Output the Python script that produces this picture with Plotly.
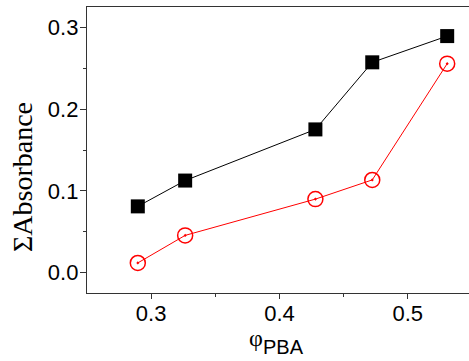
import plotly.graph_objects as go

phi_pba = [0.2896, 0.3265, 0.428, 0.4723, 0.5307]
absorb_black = [0.081, 0.1126, 0.1752, 0.2573, 0.2894]
absorb_red = [0.0118, 0.0455, 0.0899, 0.1134, 0.2557]
x_ticks = [0.3, 0.4, 0.5]
y_ticks = [0.0, 0.1, 0.2, 0.3]

# plot-area geometry (pixels) used to place titles
L, R, T, B, W, H = 87, 0, 7, 68, 469, 361
pw, ph = W - L - R, H - T - B
def px(x):
    return (x - L) / pw
def py(y):
    return (H - B - y) / ph

fig = go.Figure()
fig.add_trace(go.Scatter(
    x=phi_pba, y=absorb_black, mode="lines+markers",
    line=dict(color="black", width=1),
    marker=dict(symbol="square", size=14, color="black", line=dict(width=0)),
    showlegend=False, cliponaxis=False))
fig.add_trace(go.Scatter(
    x=phi_pba, y=absorb_red, mode="lines+markers",
    line=dict(color="#ff0000", width=1),
    marker=dict(symbol="circle-open-dot", size=15, color="#ff0000", line=dict(width=1.5, color="#ff0000")),
    showlegend=False, cliponaxis=False))
# empty trace so that the overlay axes (tick marks only) are drawn
fig.add_trace(go.Scatter(x=[], y=[], xaxis="x2", yaxis="y2", showlegend=False, hoverinfo="skip"))

axis_font = dict(family="Liberation Sans", size=22, color="black")
xr = [0.25, 0.5477]
yr = [-0.025, 0.325]
fig.update_layout(
    width=W, height=H,
    margin=dict(l=L, r=R, t=T, b=B),
    paper_bgcolor="white", plot_bgcolor="white",
    xaxis=dict(
        range=xr, tickvals=x_ticks, ticktext=[f"{v:.1f}" for v in x_ticks],
        showgrid=False, zeroline=False, showline=True, linecolor="#333", linewidth=1.3,
        mirror=True, ticks="", tickfont=axis_font,
    ),
    xaxis2=dict(
        range=xr, overlaying="x", anchor="y", side="bottom", tickvals=x_ticks,
        showticklabels=False, showgrid=False, zeroline=False, showline=False,
        ticks="outside", ticklen=5, tickcolor="#333", tickwidth=1,
        minor=dict(ticks="outside", ticklen=3, tickvals=[0.35, 0.45], tickcolor="#333"),
    ),
    yaxis=dict(
        range=yr, tickvals=y_ticks, ticktext=[f"{v:.1f}" for v in y_ticks],
        showgrid=False, zeroline=False, showline=True, linecolor="#333", linewidth=1.3,
        ticks="outside", ticklen=3, tickcolor="#333", tickwidth=1,
        tickfont=axis_font,
    ),
    yaxis2=dict(
        range=yr, overlaying="y", anchor="x", side="left", tickvals=y_ticks,
        showticklabels=False, showgrid=False, zeroline=False, showline=False,
        ticks="outside", ticklen=6, tickcolor="#333", tickwidth=1,
        minor=dict(ticks="outside", ticklen=3, tickvals=[0.05, 0.15, 0.25], tickcolor="#333"),
    ),
    annotations=[
        dict(text="ΣAbsorbance", textangle=-90, xref="paper", yref="paper",
             x=px(22), y=py(177), xanchor="center", yanchor="middle", showarrow=False,
             font=dict(family="Liberation Serif", size=28, color="black")),
        dict(text="φ", xref="paper", yref="paper",
             x=px(255.5), y=py(338), xanchor="center", yanchor="middle", showarrow=False,
             font=dict(family="Liberation Serif", size=24, color="black")),
        dict(text="PBA", xref="paper", yref="paper",
             x=px(283), y=py(347), xanchor="center", yanchor="middle", showarrow=False,
             font=dict(family="Liberation Sans", size=20, color="black")),
    ],
)
fig.write_html("out.html")
